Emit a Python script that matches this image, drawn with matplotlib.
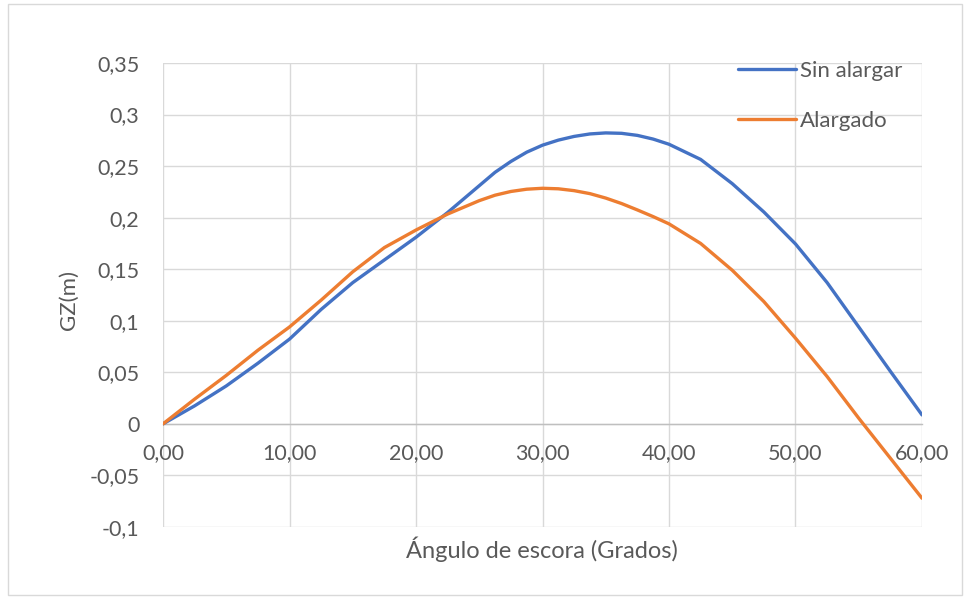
import matplotlib
matplotlib.use("Agg")
import matplotlib.pyplot as plt
from matplotlib.ticker import FixedLocator, FuncFormatter
from matplotlib.patches import Rectangle

plt.rcParams['font.family'] = ['Lato', 'DejaVu Sans']

angles = [0, 2.5, 5, 7.5, 10, 12.5, 15, 17.5, 20, 22.5, 25, 26.25, 27.5, 28.75,
          30, 31.25, 32.5, 33.75, 35, 36.25, 37.5, 38.75, 40, 42.5, 45, 47.5,
          50, 52.5, 55, 57.5, 60]
sin_alargar = [0.0, 0.0175, 0.0368, 0.0588, 0.0822, 0.111, 0.137, 0.159, 0.181,
               0.205, 0.231, 0.2440, 0.2545, 0.2635, 0.2703, 0.2752, 0.2788,
               0.2812, 0.2822, 0.2818, 0.2798, 0.2762, 0.2712, 0.2565, 0.2330,
               0.2055, 0.1745, 0.1370, 0.0940, 0.0510, 0.0087]
alargado = [0.0, 0.024, 0.047, 0.0714, 0.094, 0.120, 0.1475, 0.171, 0.188,
            0.2035, 0.2165, 0.2218, 0.2254, 0.2276, 0.2285, 0.2280, 0.2262,
            0.2233, 0.2190, 0.2137, 0.2075, 0.2010, 0.1940, 0.1750, 0.1490,
            0.1186, 0.0831, 0.0459, 0.0055, -0.0333, -0.0721]

x_ticks = [0, 10, 20, 30, 40, 50, 60]
y_ticks = [-0.1, -0.05, 0, 0.05, 0.1, 0.15, 0.2, 0.25, 0.3, 0.35]
y_tick_labels = ['-0,1', '-0,05', '0', '0,05', '0,1', '0,15', '0,2', '0,25', '0,3', '0,35']

W, H = 965, 601
fig = plt.figure(figsize=(W / 100, H / 100), dpi=100)
fig.patches.append(Rectangle((8 / W, 6 / H), (W - 8 - 3) / W, (H - 6 - 4) / H,
                             transform=fig.transFigure, fill=False,
                             edgecolor='#d9d9d9', linewidth=1))

left, right, top, bottom = 163, 922, 63, 527
ax = fig.add_axes([left / W, 1 - bottom / H, (right - left) / W, (bottom - top) / H])

ax.plot(angles, sin_alargar, color='#4472C4', linewidth=2.4, label='Sin alargar',
        solid_capstyle='round', solid_joinstyle='round', zorder=3)
ax.plot(angles, alargado, color='#ED7D31', linewidth=2.4, label='Alargado',
        solid_capstyle='round', solid_joinstyle='round', zorder=3)

ax.set_xlim(0, 60)
ax.set_ylim(-0.1, 0.35)
ax.xaxis.set_major_locator(FixedLocator(x_ticks))
ax.xaxis.set_major_formatter(FuncFormatter(lambda v, p: f"{v:.2f}".replace('.', ',')))
ax.yaxis.set_major_locator(FixedLocator(y_ticks))
ax.set_yticklabels(y_tick_labels)

ax.grid(True, color='#d9d9d9', linewidth=1, zorder=0)
for s in ['top', 'right', 'left']:
    ax.spines[s].set_visible(False)
ax.spines['bottom'].set_position(('data', 0))
ax.spines['bottom'].set_color('#bfbfbf')
ax.spines['bottom'].set_linewidth(1)
ax.spines['bottom'].set_zorder(2)
ax.tick_params(axis='both', length=0, labelsize=15.5, labelcolor='#595959')
ax.tick_params(axis='x', pad=14)
ax.tick_params(axis='y', pad=17)
ax.set_axisbelow(True)

fig.text(542 / W, 1 - 549 / H, 'Ángulo de escora (Grados)', ha='center', va='center',
         fontsize=17, color='#595959')
fig.text(69 / W, 1 - 300 / H, 'GZ(m)', ha='center', va='center', rotation=90,
         fontsize=16, color='#595959')

leg = ax.legend(loc='upper left', bbox_to_anchor=(738 / W, 1 - 61 / H),
                bbox_transform=fig.transFigure, frameon=False, fontsize=16,
                handlelength=2.6, handletextpad=0.2, labelspacing=1.35,
                borderpad=0, borderaxespad=0)
for t in leg.get_texts():
    t.set_color('#595959')

fig.savefig('out.png', dpi=100, facecolor='white')
